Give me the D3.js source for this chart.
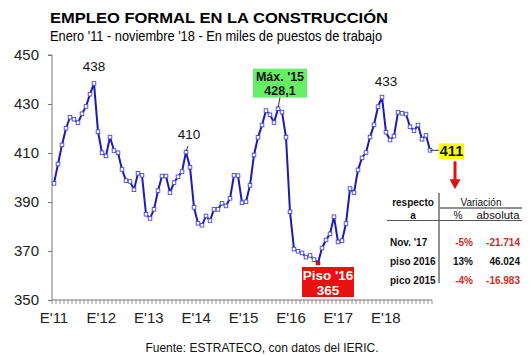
<!DOCTYPE html>
<html><head><meta charset="utf-8">
<script src="https://cdn.jsdelivr.net/npm/d3@7"></script>
<style>body{margin:0;background:#fff}svg{display:block}text{font-family:"Liberation Sans",Arial,sans-serif}</style>
</head><body>
<svg id="c" width="530" height="355"></svg>
<script>
// ---- data ----
const title = "EMPLEO FORMAL EN LA CONSTRUCCIÓN";
const subtitle = "Enero '11 - noviembre '18 - En miles de puestos de trabajo";
const source = "Fuente: ESTRATECO, con datos del IERIC.";
const years = ["11","12","13","14","15","16","17","18"];
const monthsPerYear = ["01","02","03","04","05","06","07","08","09","10","11","12"];
const values = [
 397.6,405.5,413.3,420.1,424.6,423.8,422.4,426.0,429.0,434.0,438.4,418.7,
 410.1,408.8,416.5,411.0,410.1,403.3,398.7,398.4,395.0,401.7,400.9,385.0,
 383.3,387.0,394.6,400.6,400.6,393.8,397.9,400.3,402.4,410.4,404.2,387.8,
 381.3,380.5,384.3,382.4,387.0,387.0,389.5,388.4,391.5,400.9,400.8,389.7,
 390.1,396.8,409.2,416.4,421.4,427.3,425.6,422.4,428.1,426.7,416.4,386.0,
 370.8,369.9,369.2,367.5,368.2,366.5,365.1,371.2,374.5,377.0,384.0,373.7,
 374.2,381.2,395.5,393.8,403.1,408.0,410.2,416.5,421.5,428.9,432.8,418.5,
 415.3,416.9,426.6,426.2,425.9,420.7,419.1,421.4,415.6,417.2,411.1
];
const yTicks = [350,370,390,410,430,450];
const xTickLabels = ["E'11","E'12","E'13","E'14","E'15","E'16","E'17","E'18"];
const plainLabels = [{i:10,text:"438"},{i:33,text:"410"},{i:82,text:"433"}];
const maxLabel = {i:56, lines:["Máx. '15","428,1"]};
const minLabel = {i:66, lines:["Piso '16","365"]};
const lastLabel = {i:94, text:"411"};
const tableHeadLeft = ["respecto","a"];
const tableHeadRight = ["Variación","%","absoluta"];
const tableRows = ["Nov. '17","piso 2016","pico 2015"];
const tablePct = ["-5%","13%","-4%"];
const tableAbs = ["-21.714","46.024","-16.983"];

// categories (months)
const categories = [];
years.forEach(y => monthsPerYear.forEach(m => categories.push(y + "-" + m)));
categories.length = values.length;

// ---- drawing ----
const svg = d3.select("#c");
const L = 52, R = 432, T = 55, B = 300;
const x = d3.scaleBand().domain(categories).range([L, R]).padding(0);
const cx = i => x(categories[i]) + x.bandwidth() / 2;
const y = d3.scaleLinear().domain([350, 450]).range([B, T]);
const blue = "#1c1cb0", axisCol = "#777";

// titles
svg.append("text").attr("x", 50).attr("y", 23).attr("font-size", 15).attr("font-weight", "bold")
  .attr("textLength", 338).attr("lengthAdjust", "spacingAndGlyphs").text(title);
svg.append("text").attr("x", 50).attr("y", 41).attr("font-size", 15.5)
  .attr("textLength", 332).attr("lengthAdjust", "spacingAndGlyphs").text(subtitle);

// y axis
const yAxis = d3.axisLeft(y).tickValues(yTicks).tickSize(4).tickPadding(9).tickFormat(d3.format("d"));
const gy = svg.append("g").attr("transform", `translate(${L},0)`).call(yAxis);
gy.select(".domain").attr("stroke", axisCol).attr("d", `M-4,${y(450)}H0V${B}`);
gy.selectAll(".tick line").attr("stroke", axisCol);
gy.selectAll(".tick text").attr("font-size", 15).attr("fill", "#222").attr("font-family", "Liberation Sans, Arial, sans-serif");

// x axis with minor category ticks
const gx = svg.append("g").attr("transform", `translate(0,${B})`);
gx.append("line").attr("x1", L).attr("x2", R).attr("y1", 0).attr("y2", 0).attr("stroke", axisCol);
gx.selectAll("line.mt").data(d3.range(categories.length + 1)).join("line").attr("class", "mt")
  .attr("x1", k => L + k * x.bandwidth()).attr("x2", k => L + k * x.bandwidth())
  .attr("y1", 0).attr("y2", 4).attr("stroke", axisCol).attr("stroke-width", 0.8);
gx.selectAll("text").data(xTickLabels).join("text")
  .attr("x", (d, k) => cx(k * 12) - k * 0.6).attr("y", 23).attr("text-anchor", "middle")
  .attr("font-size", 15).attr("fill", "#222").text(d => d);

// line
const line = d3.line().x((d, i) => cx(i)).y(d => y(d));
svg.append("path").datum(values).attr("d", line).attr("fill", "none")
  .attr("stroke", blue).attr("stroke-width", 2).attr("stroke-linejoin", "round");
svg.selectAll("rect.mk").data(values).join("rect").attr("class", "mk")
  .attr("x", (d, i) => cx(i) - 1.8).attr("y", d => y(d) - 1.8).attr("width", 3.6).attr("height", 3.6)
  .attr("fill", (d, i) => i === minLabel.i ? "#e01010" : "#fff")
  .attr("stroke", (d, i) => i === minLabel.i ? "#a01010" : "#4848d8").attr("stroke-width", 0.9);

// plain labels
const plainOff = {10: [0, -12], 33: [3, -13], 82: [4, -11]};
plainLabels.forEach(p => {
  const px = cx(p.i), py = y(values[p.i]);
  const o = plainOff[p.i];
  svg.append("text").attr("x", px + o[0]).attr("y", py + o[1]).attr("text-anchor", "middle")
    .attr("font-size", 13.5).attr("fill", "#111").text(p.text);
  if (p.i === 33) svg.append("line").attr("x1", px).attr("y1", py - 1).attr("x2", px + 2).attr("y2", py - 6).attr("stroke", "#333");
});

// max box
{
  const px = cx(maxLabel.i), py = y(values[maxLabel.i]);
  const bx = px - 25, by = py - 40, bw = 54, bh = 29;
  svg.append("line").attr("x1", px).attr("y1", py - 1).attr("x2", px + 2).attr("y2", by + bh).attr("stroke", "#333");
  svg.append("rect").attr("x", bx).attr("y", by).attr("width", bw).attr("height", bh).attr("fill", "#66f066");
  maxLabel.lines.forEach((t, k) => svg.append("text").attr("x", bx + bw / 2).attr("y", by + 12 + k * 14)
    .attr("text-anchor", "middle").attr("font-size", 12.5).attr("font-weight", "bold").attr("fill", "#111").text(t));
}
// min box
{
  const px = cx(minLabel.i), py = y(values[minLabel.i]);
  const bx = px - 16, by = py + 4, bw = 52, bh = 30;
  svg.append("rect").attr("x", bx).attr("y", by).attr("width", bw).attr("height", bh).attr("fill", "#e81010");
  minLabel.lines.forEach((t, k) => svg.append("text").attr("x", bx + bw / 2).attr("y", by + 13 + k * 14.5)
    .attr("text-anchor", "middle").attr("font-size", 13.5).attr("font-weight", "bold").attr("fill", "#fff").text(t));
}
// last value box + arrow
{
  const px = cx(lastLabel.i), py = y(values[lastLabel.i]);
  svg.append("line").attr("x1", px).attr("y1", py).attr("x2", px + 9).attr("y2", py).attr("stroke", "#333");
  svg.append("rect").attr("x", px + 9).attr("y", py - 7).attr("width", 25).attr("height", 16).attr("fill", "#ffff00");
  svg.append("text").attr("x", px + 21.5).attr("y", py + 6).attr("text-anchor", "middle")
    .attr("font-size", 14.5).attr("font-weight", "bold").attr("fill", "#111").text(lastLabel.text);
  const ax = px + 25;
  svg.append("rect").attr("x", ax - 1.5).attr("y", py + 11).attr("width", 3).attr("height", 20).attr("fill", "#e01010");
  svg.append("path").attr("d", `M${ax - 5.5},${py + 29}L${ax + 5.5},${py + 29}L${ax},${py + 39}Z`).attr("fill", "#e01010");
}

// table
{
  const tg = svg.append("g").attr("font-weight", "bold").attr("font-size", 10).attr("fill", "#111");
  const vx = 439;
  tg.append("line").attr("x1", vx).attr("x2", vx).attr("y1", 193).attr("y2", 283).attr("stroke", "#222");
  tg.append("line").attr("x1", 387).attr("x2", 522).attr("y1", 220.5).attr("y2", 220.5).attr("stroke", "#555");
  tg.append("line").attr("x1", 440).attr("x2", 522).attr("y1", 208).attr("y2", 208).attr("stroke", "#222");
  tg.append("text").attr("x", 413).attr("y", 206).attr("text-anchor", "middle").text(tableHeadLeft[0]);
  tg.append("text").attr("x", 413).attr("y", 219).attr("text-anchor", "middle").text(tableHeadLeft[1]);
  tg.append("text").attr("x", 481).attr("y", 206).attr("text-anchor", "middle").attr("font-weight", "normal").text(tableHeadRight[0]);
  tg.append("text").attr("x", 458).attr("y", 219).attr("text-anchor", "middle").attr("font-weight", "normal").text(tableHeadRight[1]);
  tg.append("text").attr("x", 498).attr("y", 219).attr("text-anchor", "middle").attr("font-weight", "normal")
    .attr("textLength", 43).attr("lengthAdjust", "spacingAndGlyphs").text(tableHeadRight[2]);
  tableRows.forEach((r, k) => {
    const ry = 246 + k * 19;
    tg.append("text").attr("x", 390).attr("y", ry).text(r);
    tg.append("text").attr("x", 473).attr("y", ry).attr("text-anchor", "end")
      .attr("fill", tablePct[k].startsWith("-") ? "#d42828" : "#111").text(tablePct[k]);
    tg.append("text").attr("x", 520).attr("y", ry).attr("text-anchor", "end")
      .attr("fill", tableAbs[k].startsWith("-") ? "#d42828" : "#111").text(tableAbs[k]);
  });
}

// source
svg.append("text").attr("x", 262).attr("y", 352).attr("text-anchor", "middle").attr("font-size", 12)
  .attr("fill", "#111").text(source);
</script>
</body></html>
